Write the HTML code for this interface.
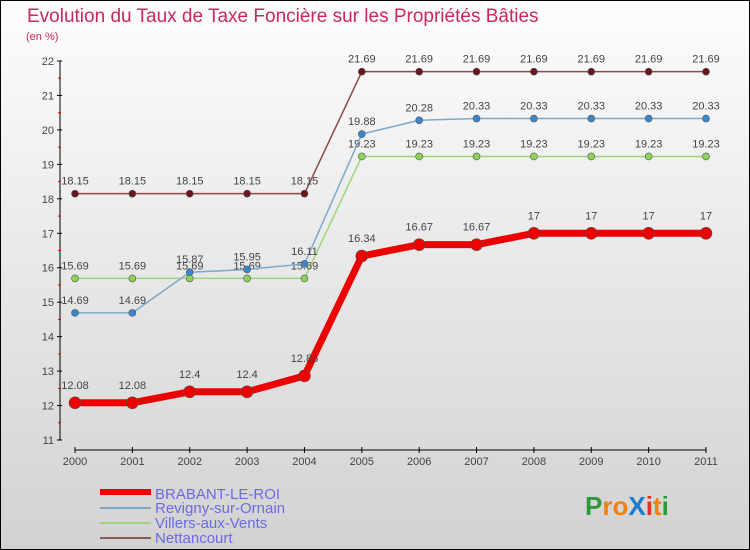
<!DOCTYPE html>
<html><head><meta charset="utf-8"><style>
body{margin:0;width:750px;height:550px;overflow:hidden;font-family:"Liberation Sans",sans-serif}
#c{position:absolute;left:0;top:0;width:748px;height:548px;border:1px solid #000;background:linear-gradient(#fdfdfd,#d2d2d2)}
</style></head><body>
<div id="c">
<svg width="750" height="550" style="position:absolute;left:-1px;top:-1px" id="svg">
<text x="27" y="22" font-size="19" fill="#c8285a">Evolution du Taux de Taxe Foncière sur les Propriétés Bâties</text>
<text x="26" y="40" font-size="11" fill="#c8285a">(en %)</text>
<g id="axes"></g><g id="series"></g>
<g>
<rect x="100" y="489" width="51" height="6" fill="#e00"/>
<text x="155" y="499" font-size="15" fill="#6a6ae8">BRABANT-LE-ROI</text>
<rect x="100" y="507" width="51" height="2" fill="#7aa9cc"/>
<text x="155" y="513" font-size="15" fill="#6a6ae8">Revigny-sur-Ornain</text>
<rect x="100" y="522" width="51" height="2" fill="#9ed47a"/>
<text x="155" y="528" font-size="15" fill="#6a6ae8">Villers-aux-Vents</text>
<rect x="100" y="537" width="51" height="2" fill="#8a5a5a"/>
<text x="155" y="543" font-size="15" fill="#6a6ae8">Nettancourt</text>
</g>
<text x="585" y="515" font-size="26" font-weight="bold"><tspan fill="#2a9a3a">P</tspan><tspan fill="#f08010">ro</tspan><tspan fill="#1a7ad0">X</tspan><tspan fill="#e03020">i</tspan><tspan fill="#f08010">t</tspan><tspan fill="#2a9a3a">i</tspan></text>
</svg></div>
<script>
const years=["2000","2001","2002","2003","2004","2005","2006","2007","2008","2009","2010","2011"];
const yTicks=[11,12,13,14,15,16,17,18,19,20,21,22];
const brabant=[12.08,12.08,12.4,12.4,12.86,16.34,16.67,16.67,17,17,17,17];
const revigny=[14.69,14.69,15.87,15.95,16.11,19.88,20.28,20.33,20.33,20.33,20.33,20.33];
const villers=[15.69,15.69,15.69,15.69,15.69,19.23,19.23,19.23,19.23,19.23,19.23,19.23];
const nettancourt=[18.15,18.15,18.15,18.15,18.15,21.69,21.69,21.69,21.69,21.69,21.69,21.69];
const NS="http://www.w3.org/2000/svg";
const xs=i=>75+i*(706-75)/11;
const ys=v=>61+(22-v)*(440-61)/11;
function mk(t,a,p){const e=document.createElementNS(NS,t);for(const k in a)e.setAttribute(k,a[k]);p.appendChild(e);return e;}
const ax=document.getElementById('axes');
let l=mk('line',{x1:60,y1:61,x2:60,y2:440,stroke:'#000'},ax);


l=mk('line',{x1:75,y1:450,x2:706,y2:450,stroke:'#000'},ax);


yTicks.forEach(v=>{
 const y=ys(v);
 mk('line',{x1:57,y1:y,x2:62,y2:y,stroke:'#000'},ax);
 if(v<22)mk('line',{x1:58,y1:y-17.2,x2:61,y2:y-17.2,stroke:'#e00'},ax);
 const t=mk('text',{x:54,y:y+4,'font-size':11,fill:'#444','text-anchor':'end'},ax);t.textContent=v;
 
 
});
years.forEach((yr,i)=>{
 const x=xs(i);
 mk('line',{x1:x,y1:447,x2:x,y2:453,stroke:'#000'},ax);
 const t=mk('text',{x:x,y:465,'font-size':11,fill:'#444','text-anchor':'middle'},ax);t.textContent=yr;
 
 
});
const sg=document.getElementById('series');
function series(data,color,w,r,dot,name,lblDy){
 const g=mk('g',{},sg);
 
 
 const p=mk('polyline',{points:data.map((v,i)=>xs(i)+','+ys(v)).join(' '),fill:'none',stroke:color,'stroke-width':w,'stroke-linejoin':'round'},g);
 
 
 data.forEach((v,i)=>{
  const c=mk('circle',{cx:xs(i),cy:ys(v),r:r,fill:dot,stroke:'#555','stroke-width':0.6},g);
  
  
  const t=mk('text',{x:xs(i),y:ys(v)+lblDy,'font-size':11,fill:'#444','text-anchor':'middle'},g);
  t.textContent=v;
  
  
 });
}
series(nettancourt,'#8a4a4a',1.5,3.5,'#6a1420','nettancourt',-9);
series(villers,'#9ed47a',1.5,3.5,'#8bd456','villers-aux-vents',-9);
series(revigny,'#7aa9cc',1.5,3.5,'#3a88cc','revigny-sur-ornain',-9);
series(brabant,'#e00',7,6,'#e00','brabant-le-roi',-14);
</script>
</body></html>
